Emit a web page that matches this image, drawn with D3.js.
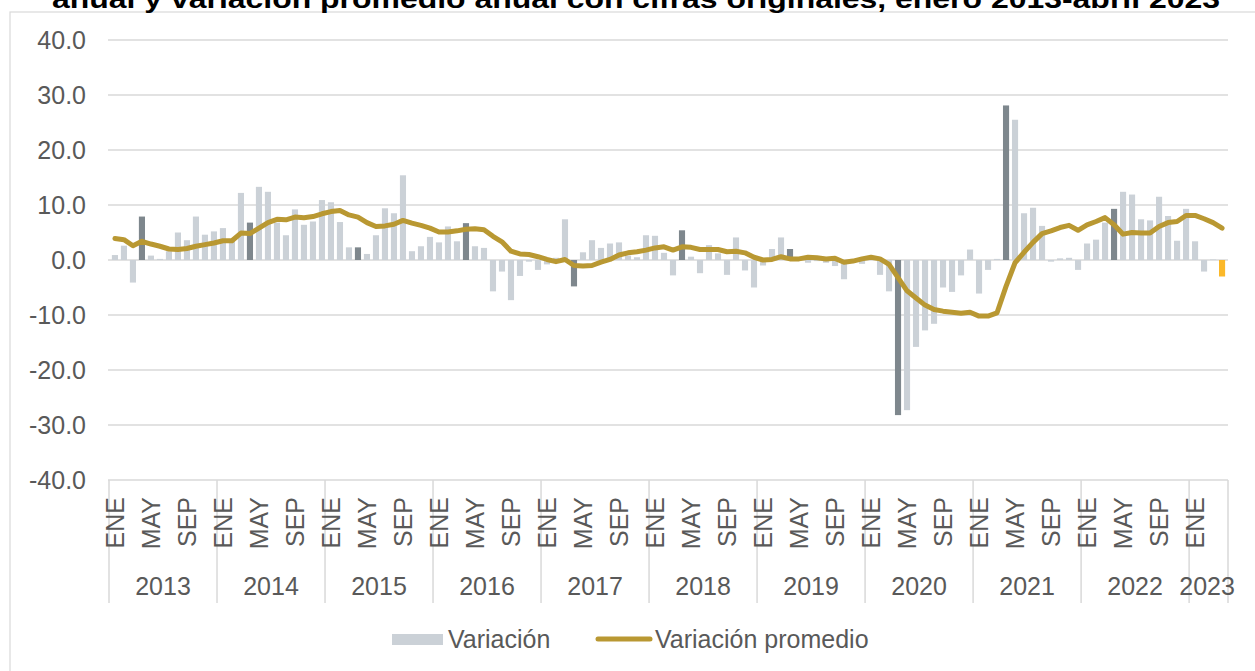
<!DOCTYPE html>
<html>
<head>
<meta charset="utf-8">
<script src="https://cdn.jsdelivr.net/npm/d3@7"></script>
<style>
  body { margin: 0; background: #fff; }
  text { font-family: "Liberation Sans", Arial, sans-serif; fill: #595959; }
</style>
</head>
<body>
<script>
const w = 1255;
const h = 671;

// Data

const years = ["2013", "2014", "2015", "2016", "2017", "2018", "2019", "2020", "2021", "2022", "2023"];
const monthNames = ["ENE", "FEB", "MAR", "ABR", "MAY", "JUN", "JUL", "AGO", "SEP", "OCT", "NOV", "DIC"];
const shownMonths = ["ENE", "MAY", "SEP"];
const yTicks = [-40, -30, -20, -10, 0, 10, 20, 30, 40];

const variacion = [
  0.9, 2.6, -4.1, 7.9, 0.8, 0.2, 1.6, 5.0, 3.6, 7.9, 4.6, 5.2,
  5.8, 3.5, 12.2, 6.8, 13.3, 12.4, 6.8, 4.5, 9.2, 6.4, 7.0, 10.9,
  10.5, 6.9, 2.3, 2.3, 1.1, 4.5, 9.4, 8.5, 15.4, 1.6, 2.5, 4.2,
  3.2, 6.1, 3.4, 6.7, 2.5, 2.2, -5.7, -2.1, -7.3, -2.9, -0.3, -1.8,
  -0.8, 0.4, 7.4, -4.8, 1.4, 3.6, 2.2, 3.0, 3.2, 0.8, 0.5, 4.5,
  4.4, 1.3, -2.8, 5.4, 0.6, -2.4, 2.7, 1.2, -2.7, 4.1, -1.9, -5.0,
  -1.0, 2.0, 4.1, 2.0, 0.2, -0.5, -0.2, -0.5, -1.1, -3.5, 0.1, -0.7,
  0.3, -2.7, -5.7, -28.2, -27.3, -15.8, -12.8, -11.6, -5.0, -5.8, -2.8, 1.9,
  -6.1, -1.8, 0.2, 28.1, 25.5, 8.5, 9.5, 6.2, -0.3, 0.3, 0.4, -1.8,
  3.0, 3.7, 6.8, 9.3, 12.4, 11.9, 7.4, 7.2, 11.5, 8.0, 3.5, 9.3,
  3.4, -2.1, 0.1, -3.0
];

const promedio = [
  3.9, 3.7, 2.6, 3.4, 2.9, 2.5, 2.0, 1.9, 2.1, 2.5, 2.8, 3.1,
  3.5, 3.5, 4.9, 4.8, 5.8, 6.8, 7.4, 7.3, 7.8, 7.7, 7.9, 8.4,
  8.8, 9.0, 8.2, 7.8, 6.8, 6.1, 6.2, 6.5, 7.2, 6.7, 6.3, 5.8,
  5.1, 5.1, 5.3, 5.6, 5.7, 5.5, 4.3, 3.3, 1.6, 1.1, 1.0, 0.6,
  0.1, -0.3, 0.1, -1.0, -1.1, -1.0, -0.4, 0.1, 0.9, 1.3, 1.5, 1.8,
  2.2, 2.4, 1.8, 2.4, 2.3, 1.9, 1.9, 1.9, 1.5, 1.6, 1.3, 0.5,
  0.0, 0.1, 0.6, 0.2, 0.2, 0.5, 0.4, 0.2, 0.3, -0.4, -0.2, 0.2,
  0.5, 0.2, -0.8, -3.2, -5.6, -6.9, -8.2, -9.0, -9.3, -9.5, -9.7, -9.5,
  -10.2, -10.2, -9.6, -4.8, -0.5, 1.4, 3.2, 4.8, 5.3, 5.9, 6.3, 5.4,
  6.4, 7.0, 7.7, 6.4, 4.7, 5.0, 4.9, 4.9, 6.1, 6.8, 7.0, 8.1,
  8.1, 7.5, 6.8, 5.8
];

const data = variacion.map((v, i) => ({
  i,
  year: years[Math.floor(i / 12)],
  month: monthNames[i % 12],
  v,
  p: promedio[i]
}));

// SVG

const svg = d3.select("body").append("svg").attr("width", w).attr("height", h);

// Frame + title (title is cropped at the top, as in the source)

svg.append("rect")
  .attr("x", 10).attr("y", 12)
  .attr("width", w).attr("height", h)
  .attr("fill", "none").attr("stroke", "#d9d9d9").attr("stroke-width", 1.2);

svg.append("text")
  .attr("x", 636).attr("y", 8)
  .attr("text-anchor", "middle")
  .attr("font-size", 26).attr("font-weight", "bold")
  .style("fill", "#000")
  .attr("textLength", 1168).attr("lengthAdjust", "spacingAndGlyphs")
  .text("anual y variación promedio anual con cifras originales, enero 2013-abril 2023");

// Scales

const x = d3.scaleBand().domain(d3.range(data.length)).range([109, 1228]).padding(0.32);
const y = d3.scaleLinear().domain([-40, 40]).range([480, 40]);

// Grid

svg.append("g")
  .selectAll("line")
  .data(yTicks)
  .join("line")
  .attr("x1", 108).attr("x2", 1228)
  .attr("y1", (d) => y(d)).attr("y2", (d) => y(d))
  .attr("stroke", "#d9d9d9").attr("stroke-width", 1.5);

svg.append("g")
  .selectAll("text")
  .data(yTicks)
  .join("text")
  .attr("x", 86).attr("y", (d) => y(d))
  .attr("dy", "0.36em")
  .attr("text-anchor", "end")
  .attr("font-size", 25)
  .text((d) => d.toFixed(1));

// Bars

const last = data.length - 1;

svg.append("g")
  .selectAll("rect")
  .data(data)
  .join("rect")
  .attr("x", (d) => x(d.i))
  .attr("width", x.bandwidth())
  .attr("y", (d) => y(Math.max(0, d.v)))
  .attr("height", (d) => Math.abs(y(d.v) - y(0)))
  .attr("fill", (d) => d.i === last ? "#fbb829" : d.month === "ABR" ? "#7e878d" : "#cbd1d7");

// Line

const line = d3.line()
  .x((d) => x(d.i) + x.bandwidth() / 2)
  .y((d) => y(d.p));

svg.append("path")
  .datum(data)
  .attr("d", line)
  .attr("fill", "none")
  .attr("stroke", "#b99832")
  .attr("stroke-width", 5)
  .attr("stroke-linejoin", "round")
  .attr("stroke-linecap", "round");

// X axis: year separators

const yearStarts = years.map((yr, k) => k * 12).concat([data.length]);

svg.append("g")
  .selectAll("line")
  .data(yearStarts)
  .join("line")
  .attr("x1", (d) => d < data.length ? x.step() * d + 109 : 1228)
  .attr("x2", (d) => d < data.length ? x.step() * d + 109 : 1228)
  .attr("y1", 480).attr("y2", 603)
  .attr("stroke", "#d9d9d9").attr("stroke-width", 1.5);

// Month labels

svg.append("g")
  .selectAll("text")
  .data(data.filter((d) => shownMonths.includes(d.month)))
  .join("text")
  .attr("transform", (d) => `translate(${x(d.i) + x.bandwidth() / 2},497) rotate(-90)`)
  .attr("dy", "0.36em")
  .attr("text-anchor", "end")
  .attr("font-size", 25)
  .text((d) => d.month);

// Year labels

svg.append("g")
  .selectAll("text")
  .data(years)
  .join("text")
  .attr("x", (d, k) => {
    const n = data.filter((e) => e.year === d).length;
    return 109 + x.step() * (k * 12 + n / 2);
  })
  .attr("y", 595)
  .attr("text-anchor", "middle")
  .attr("font-size", 25)
  .text((d) => d);

// Legend

const legend = svg.append("g");

legend.append("rect")
  .attr("x", 392).attr("y", 634)
  .attr("width", 51).attr("height", 11)
  .attr("fill", "#cbd1d7");

legend.append("text")
  .attr("x", 448).attr("y", 648)
  .attr("font-size", 25)
  .text("Variación");

legend.append("line")
  .attr("x1", 598).attr("x2", 650)
  .attr("y1", 639).attr("y2", 639)
  .attr("stroke", "#b99832").attr("stroke-width", 5)
  .attr("stroke-linecap", "round");

legend.append("text")
  .attr("x", 655).attr("y", 648)
  .attr("font-size", 25)
  .text("Variación promedio");
</script>
</body>
</html>
